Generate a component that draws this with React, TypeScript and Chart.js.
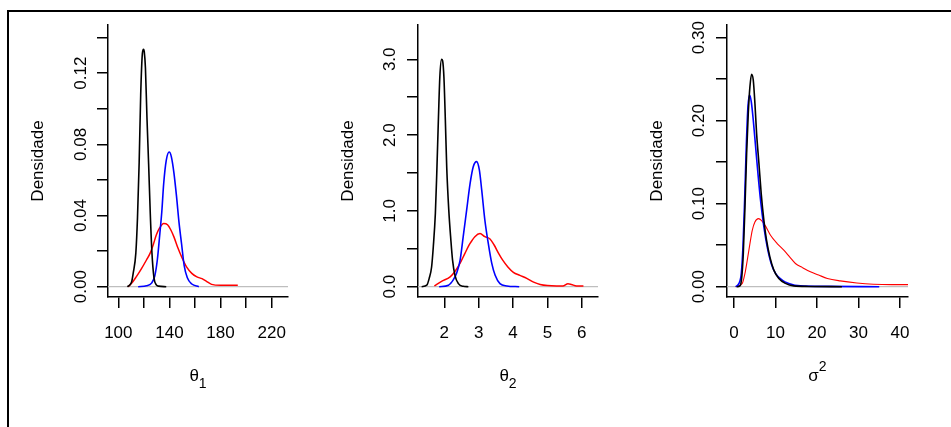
import React, { useEffect, useRef } from 'react';
import { Chart, registerables } from 'chart.js';

Chart.register(...registerables);

// ---------- Data: panel 1 (theta_1) ----------
const t1BlackX = [107, 109, 110.5, 111.6, 113.7, 115, 116.3, 117.5, 118.8, 119.7, 120.3, 121.2, 122.4, 123.7, 125, 126.3, 127.9, 129.7, 131.5, 137.5];
const t1BlackY = [0, 0.001, 0.003, 0.0075, 0.019, 0.039, 0.07, 0.108, 0.131, 0.1335, 0.132, 0.123, 0.095, 0.069, 0.041, 0.019, 0.005, 0.001, 0.0003, 0];
const t1BlueX = [115.5, 122, 126, 128.5, 130.5, 132.5, 134, 135.5, 137.5, 139.8, 141.5, 143.5, 145.5, 147.5, 149.5, 151.5, 154, 157.5, 163];
const t1BlueY = [0, 0.0005, 0.002, 0.006, 0.015, 0.03, 0.042, 0.058, 0.071, 0.0757, 0.073, 0.064, 0.051, 0.036, 0.024, 0.012, 0.005, 0.0015, 0];
const t1RedX = [107.5, 110.5, 114, 118, 122, 125, 127.5, 129.7, 132.3, 135.5, 138.5, 141, 143.5, 146.5, 150, 153.5, 157.5, 161.5, 165.5, 169, 173, 180, 193.5];
const t1RedY = [0, 0.002, 0.0055, 0.01, 0.015, 0.019, 0.024, 0.029, 0.033, 0.0355, 0.0348, 0.032, 0.028, 0.022, 0.016, 0.011, 0.0075, 0.0055, 0.0045, 0.003, 0.0013, 0.0008, 0.0008];
const t1XTicks = [100, 120, 140, 160, 180, 200, 220];
const t1XLabels = ['100', '', '140', '', '180', '', '220'];
const t1YTicks = [0, 0.02, 0.04, 0.06, 0.08, 0.1, 0.12, 0.14];
const t1YLabels = ['0.00', '', '0.04', '', '0.08', '', '0.12', ''];
const t1XRange = [91.9, 232.8];
const t1YRange = [-0.0058, 0.1471];

// ---------- Data: panel 2 (theta_2) ----------
const t2BlackX = [1.34, 1.49, 1.56, 1.63, 1.68, 1.74, 1.78, 1.83, 1.87, 1.92, 1.95, 1.99, 2.03, 2.07, 2.13, 2.19, 2.24, 2.31, 2.41, 2.55, 2.7];
const t2BlackY = [0, 0.02, 0.11, 0.26, 0.53, 0.97, 1.49, 2.24, 2.77, 3.0, 2.98, 2.75, 2.2, 1.58, 1.01, 0.62, 0.35, 0.15, 0.04, 0.005, 0];
const t2BlueX = [1.85, 2.12, 2.26, 2.36, 2.46, 2.55, 2.65, 2.75, 2.84, 2.94, 3.02, 3.09, 3.18, 3.28, 3.38, 3.48, 3.62, 3.82, 4.18];
const t2BlueY = [0, 0.02, 0.09, 0.18, 0.35, 0.66, 1.01, 1.36, 1.58, 1.65, 1.54, 1.27, 0.88, 0.57, 0.31, 0.15, 0.04, 0.01, 0];
const t2RedX = [1.71, 1.92, 2.17, 2.31, 2.46, 2.6, 2.75, 2.89, 3.04, 3.18, 3.33, 3.45, 3.58, 3.7, 3.85, 4.01, 4.2, 4.4, 4.6, 4.79, 5.0, 5.27, 5.45, 5.6, 5.7, 5.85, 6.05];
const t2RedY = [0.01, 0.07, 0.13, 0.2, 0.31, 0.44, 0.57, 0.66, 0.7, 0.66, 0.63, 0.55, 0.44, 0.35, 0.26, 0.19, 0.15, 0.11, 0.06, 0.03, 0.015, 0.01, 0.01, 0.04, 0.03, 0.01, 0.01];
const t2XTicks = [2, 3, 4, 5, 6];
const t2XLabels = ['2', '3', '4', '5', '6'];
const t2YTicks = [0, 0.5, 1, 1.5, 2, 2.5, 3];
const t2YLabels = ['0.0', '', '1.0', '', '2.0', '', '3.0'];
const t2XRange = [1.234, 6.474];
const t2YRange = [-0.136, 3.452];

// ---------- Data: panel 3 (sigma^2) ----------
const s2BlackX = [0.64, 1.44, 1.84, 2.24, 2.64, 3.04, 3.44, 3.84, 4.24, 4.64, 5.04, 5.44, 6.0, 6.56, 7.2, 7.84, 8.64, 9.6, 10.8, 12.4, 14.4, 18, 26];
const s2BlackY = [0, 0.001, 0.01, 0.04, 0.096, 0.16, 0.209, 0.241, 0.256, 0.249, 0.221, 0.185, 0.149, 0.112, 0.08, 0.056, 0.036, 0.02, 0.01, 0.004, 0.001, 0.0003, 0];
const s2BlueX = [0.4, 1.2, 1.76, 2.16, 2.56, 2.96, 3.36, 3.76, 4.16, 4.64, 5.2, 5.76, 6.4, 7.2, 8.0, 8.96, 10, 11.6, 13.2, 16, 22, 35];
const s2BlueY = [0, 0.004, 0.016, 0.048, 0.104, 0.169, 0.217, 0.231, 0.223, 0.201, 0.169, 0.137, 0.104, 0.072, 0.048, 0.028, 0.016, 0.008, 0.004, 0.001, 0.0004, 0];
const s2RedX = [0.4, 2.0, 2.64, 3.2, 3.84, 4.4, 5.04, 5.9, 6.6, 7.6, 8.8, 10.4, 12.0, 13.4, 14.8, 16.5, 18.4, 20.4, 22.5, 25.6, 29.6, 33.6, 38, 42];
const s2RedY = [0, 0.004, 0.016, 0.032, 0.052, 0.068, 0.078, 0.082, 0.08, 0.073, 0.062, 0.052, 0.044, 0.036, 0.028, 0.023, 0.018, 0.014, 0.01, 0.007, 0.0045, 0.003, 0.0025, 0.0025];
const s2XTicks = [0, 10, 20, 30, 40];
const s2XLabels = ['0', '10', '20', '30', '40'];
const s2YTicks = [0, 0.05, 0.1, 0.15, 0.2, 0.25, 0.3];
const s2YLabels = ['0.00', '', '0.10', '', '0.20', '', '0.30'];
const s2XRange = [-1.687, 41.93];
const s2YRange = [-0.0124, 0.3153];

const yTitle = 'Densidade';
const FONT = '"Liberation Sans", Arial, Helvetica, sans-serif';

type Panel = {
  left: number;
  padRight: number;
  yPad: number;
  xTitleBase: string;
  xTitleScript: string;
  scriptShift: number;
  redWidth: number;
  xRange: number[];
  yRange: number[];
  xTicks: number[];
  xLabels: string[];
  yTicks: number[];
  yLabels: string[];
  black: [number[], number[]];
  blue: [number[], number[]];
  red: [number[], number[]];
};

const panels: Panel[] = [
  {
    left: 10, padRight: 22, yPad: -0.5, xTitleBase: 'θ', xTitleScript: '1', scriptShift: 6.5, redWidth: 1.5,
    xRange: t1XRange, yRange: t1YRange, xTicks: t1XTicks, xLabels: t1XLabels, yTicks: t1YTicks, yLabels: t1YLabels,
    black: [t1BlackX, t1BlackY], blue: [t1BlueX, t1BlueY], red: [t1RedX, t1RedY],
  },
  {
    left: 320, padRight: 22, yPad: 5, xTitleBase: 'θ', xTitleScript: '2', scriptShift: 6.5, redWidth: 1.5,
    xRange: t2XRange, yRange: t2YRange, xTicks: t2XTicks, xLabels: t2XLabels, yTicks: t2YTicks, yLabels: t2YLabels,
    black: [t2BlackX, t2BlackY], blue: [t2BlueX, t2BlueY], red: [t2RedX, t2RedY],
  },
  {
    left: 629, padRight: 21, yPad: 0.5, xTitleBase: 'σ', xTitleScript: '2', scriptShift: -10, redWidth: 1.1,
    xRange: s2XRange, yRange: s2YRange, xTicks: s2XTicks, xLabels: s2XLabels, yTicks: s2YTicks, yLabels: s2YLabels,
    black: [s2BlackX, s2BlackY], blue: [s2BlueX, s2BlueY], red: [s2RedX, s2RedY],
  },
];

const toPoints = (xs: number[], ys: number[]) => xs.map((x, i) => ({ x, y: ys[i] }));

const xTitlePlugin = {
  id: 'rXTitle',
  afterDraw(chart: any, _args: any, opts: any) {
    const { ctx, chartArea } = chart;
    const cx = (chartArea.left + chartArea.right) / 2;
    const baseY = chartArea.bottom + 84;
    ctx.save();
    ctx.fillStyle = '#000';
    ctx.textAlign = 'left';
    ctx.textBaseline = 'alphabetic';
    ctx.font = `17px ${FONT}`;
    const wb = ctx.measureText(opts.base).width;
    ctx.font = `14px ${FONT}`;
    const ws = ctx.measureText(opts.script).width;
    const x0 = cx - (wb + ws) / 2;
    ctx.font = `17px ${FONT}`;
    ctx.fillText(opts.base, x0, baseY);
    ctx.font = `14px ${FONT}`;
    ctx.fillText(opts.script, x0 + wb, baseY + opts.shift);
    ctx.restore();
  },
};

function PanelChart({ p }: { p: Panel }) {
  const ref = useRef<HTMLCanvasElement | null>(null);
  useEffect(() => {
    if (!ref.current) return;
    const chart = new Chart(ref.current, {
      type: 'scatter',
      data: {
        datasets: [
          { data: toPoints(p.black[0], p.black[1]), borderColor: '#000000', borderWidth: 1.6, order: 1 },
          { data: toPoints(p.blue[0], p.blue[1]), borderColor: '#0000ff', borderWidth: 1.6, order: 2 },
          { data: toPoints(p.red[0], p.red[1]), borderColor: '#ff0000', borderWidth: p.redWidth, order: 3 },
          { data: toPoints(p.xRange, [0, 0]), borderColor: '#bebebe', borderWidth: 1.2, order: 4 },
        ] as any,
      },
      options: {
        responsive: false,
        animation: false,
        devicePixelRatio: 1,
        events: [],
        showLine: true,
        elements: {
          point: { radius: 0 },
          line: { cubicInterpolationMode: 'monotone', fill: false },
        },
        layout: { padding: { left: 8, top: 25, right: p.padRight, bottom: 30 } },
        plugins: {
          legend: { display: false },
          tooltip: { enabled: false },
          rXTitle: { base: p.xTitleBase, script: p.xTitleScript, shift: p.scriptShift },
        } as any,
        scales: {
          x: {
            type: 'linear',
            bounds: 'data',
            min: p.xRange[0],
            max: p.xRange[1],
            afterBuildTicks: (s: any) => { s.ticks = p.xTicks.map((v) => ({ value: v })); },
            afterFit: (s: any) => { s.height = 100; },
            ticks: {
              autoSkip: false, minRotation: 0, maxRotation: 0, padding: 15, color: '#000',
              font: { size: 17, family: FONT },
              callback: (_v: any, i: number) => p.xLabels[i],
            },
            grid: { display: true, drawOnChartArea: false, drawTicks: true, tickLength: 11, color: '#000', lineWidth: 1.5 },
            border: { display: true, color: '#000', width: 1.5 },
            title: { display: false },
          },
          y: {
            type: 'linear',
            bounds: 'data',
            min: p.yRange[0],
            max: p.yRange[1],
            afterBuildTicks: (s: any) => { s.ticks = p.yTicks.map((v) => ({ value: v })); },
            afterFit: (s: any) => { s.width = 90; },
            ticks: {
              autoSkip: false, minRotation: 90, maxRotation: 90, crossAlign: 'center', padding: p.yPad, color: '#000',
              font: { size: 17, family: FONT },
              callback: (_v: any, i: number) => p.yLabels[i],
            },
            grid: { display: true, drawOnChartArea: false, drawTicks: true, tickLength: 11, color: '#000', lineWidth: 1.5 },
            border: { display: true, color: '#000', width: 1.5 },
            title: { display: true, text: yTitle, color: '#000', font: { size: 17, family: FONT }, padding: { top: 10.5, bottom: 0 } },
          },
        },
      } as any,
      plugins: [xTitlePlugin],
    });
    return () => chart.destroy();
  }, [p]);
  return (
    <canvas
      ref={ref}
      width={300}
      height={427}
      style={{ position: 'absolute', left: p.left, top: 0, width: 300, height: 427 }}
    />
  );
}

export default function App() {
  return (
    <div style={{ position: 'absolute', left: 0, top: 0, width: 951, height: 427, background: '#fff', overflow: 'hidden' }}>
      <div
        style={{
          position: 'absolute', left: 7, top: 10, width: 980, height: 440,
          borderTop: '2px solid #000', borderLeft: '2px solid #000',
        }}
      />
      {panels.map((p, i) => (
        <PanelChart key={i} p={p} />
      ))}
    </div>
  );
}
